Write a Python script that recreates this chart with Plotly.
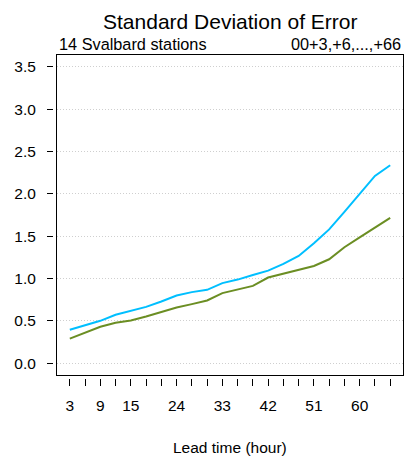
import plotly.graph_objects as go

lead_time = [3, 6, 9, 12, 15, 18, 21, 24, 27, 30, 33, 36, 39, 42, 45, 48, 51, 54, 57, 60, 63, 66]
sd_blue = [0.395, 0.445, 0.50, 0.571, 0.618, 0.665, 0.728, 0.799, 0.839, 0.866, 0.945, 0.987,
           1.042, 1.093, 1.172, 1.266, 1.416, 1.58, 1.788, 1.996, 2.212, 2.338]
sd_green = [0.289, 0.363, 0.43, 0.477, 0.504, 0.551, 0.603, 0.657, 0.697, 0.74, 0.827, 0.874,
            0.913, 1.011, 1.054, 1.098, 1.148, 1.227, 1.369, 1.486, 1.604, 1.717]
x_tick_vals = lead_time
x_tick_labels = ['3', '', '9', '', '15', '', '', '24', '', '', '33', '', '', '42', '', '',
                 '51', '', '', '60', '', '']
y_tick_vals = [0.0, 0.5, 1.0, 1.5, 2.0, 2.5, 3.0, 3.5]
y_tick_labels = ['0.0', '0.5', '1.0', '1.5', '2.0', '2.5', '3.0', '3.5']

title_text = 'Standard Deviation of Error'
sub_left = '14 Svalbard stations'
sub_right = '00+3,+6,...,+66'
x_title = 'Lead time (hour)'

FONT = 'Liberation Sans, Arial, Helvetica, sans-serif'
x_range = [0.48, 68.52]
y_range = [-0.14, 3.64]

fig = go.Figure()
fig.add_trace(go.Scatter(x=lead_time, y=sd_blue, mode='lines',
                         line=dict(color='#00BFFF', width=2), showlegend=False))
fig.add_trace(go.Scatter(x=lead_time, y=sd_green, mode='lines',
                         line=dict(color='#6B8E23', width=2), showlegend=False))
# empty trace to register the tick-only axes
fig.add_trace(go.Scatter(x=[None], y=[None], xaxis='x2', yaxis='y2', showlegend=False,
                         hoverinfo='skip'))

fig.update_layout(
    width=406, height=460,
    margin=dict(l=53, r=3, t=55, b=82),
    paper_bgcolor='white', plot_bgcolor='white',
    font=dict(family=FONT, size=15, color='black'),
    xaxis=dict(domain=[4/350, 1], range=x_range, showgrid=False, zeroline=False,
               showticklabels=False, ticks='', showline=True, mirror=True,
               linecolor='black', linewidth=1, anchor='y'),
    yaxis=dict(domain=[3/323, 1], range=y_range, showgrid=True, gridcolor='#cfcfcf',
               griddash='1px,2px', gridwidth=1, tickvals=y_tick_vals, zeroline=False,
               showticklabels=False, ticks='', showline=True, mirror=True,
               linecolor='black', linewidth=1, anchor='x'),
    xaxis2=dict(overlaying='x', anchor='free', position=0, range=x_range,
                tickvals=x_tick_vals, ticktext=x_tick_labels, ticks='outside',
                ticklen=7, tickwidth=1, tickcolor='black', showline=False,
                showgrid=False, zeroline=False, ticklabelstandoff=6,
                tickfont=dict(family=FONT, size=15.5, color='black')),
    yaxis2=dict(overlaying='y', anchor='free', position=0, range=y_range,
                tickvals=y_tick_vals, ticktext=y_tick_labels, ticks='outside',
                ticklen=6, tickwidth=1, tickcolor='black', showline=False,
                showgrid=False, zeroline=False, ticklabelstandoff=8,
                tickfont=dict(family=FONT, size=15.5, color='black')),
    annotations=[
        dict(text=title_text, xref='x domain', yref='paper', x=0.5, y=1,
             xanchor='center', yanchor='bottom', yshift=20, showarrow=False,
             font=dict(family=FONT, size=21, color='black')),
        dict(text=sub_left, xref='x domain', yref='paper', x=0, y=1,
             xanchor='left', yanchor='bottom', yshift=0, showarrow=False,
             font=dict(family=FONT, size=16.3, color='black')),
        dict(text=sub_right, xref='x domain', yref='paper', x=1, y=1,
             xanchor='right', yanchor='bottom', yshift=0, showarrow=False,
             font=dict(family=FONT, size=16.3, color='black')),
        dict(text=x_title, xref='x domain', yref='paper', x=0.5, y=0,
             xanchor='center', yanchor='middle', yshift=-69, showarrow=False,
             font=dict(family=FONT, size=15.5, color='black')),
    ],
)

fig.write_html('out.html', config={'displayModeBar': False},
               post_script="document.body.style.margin='0';")
